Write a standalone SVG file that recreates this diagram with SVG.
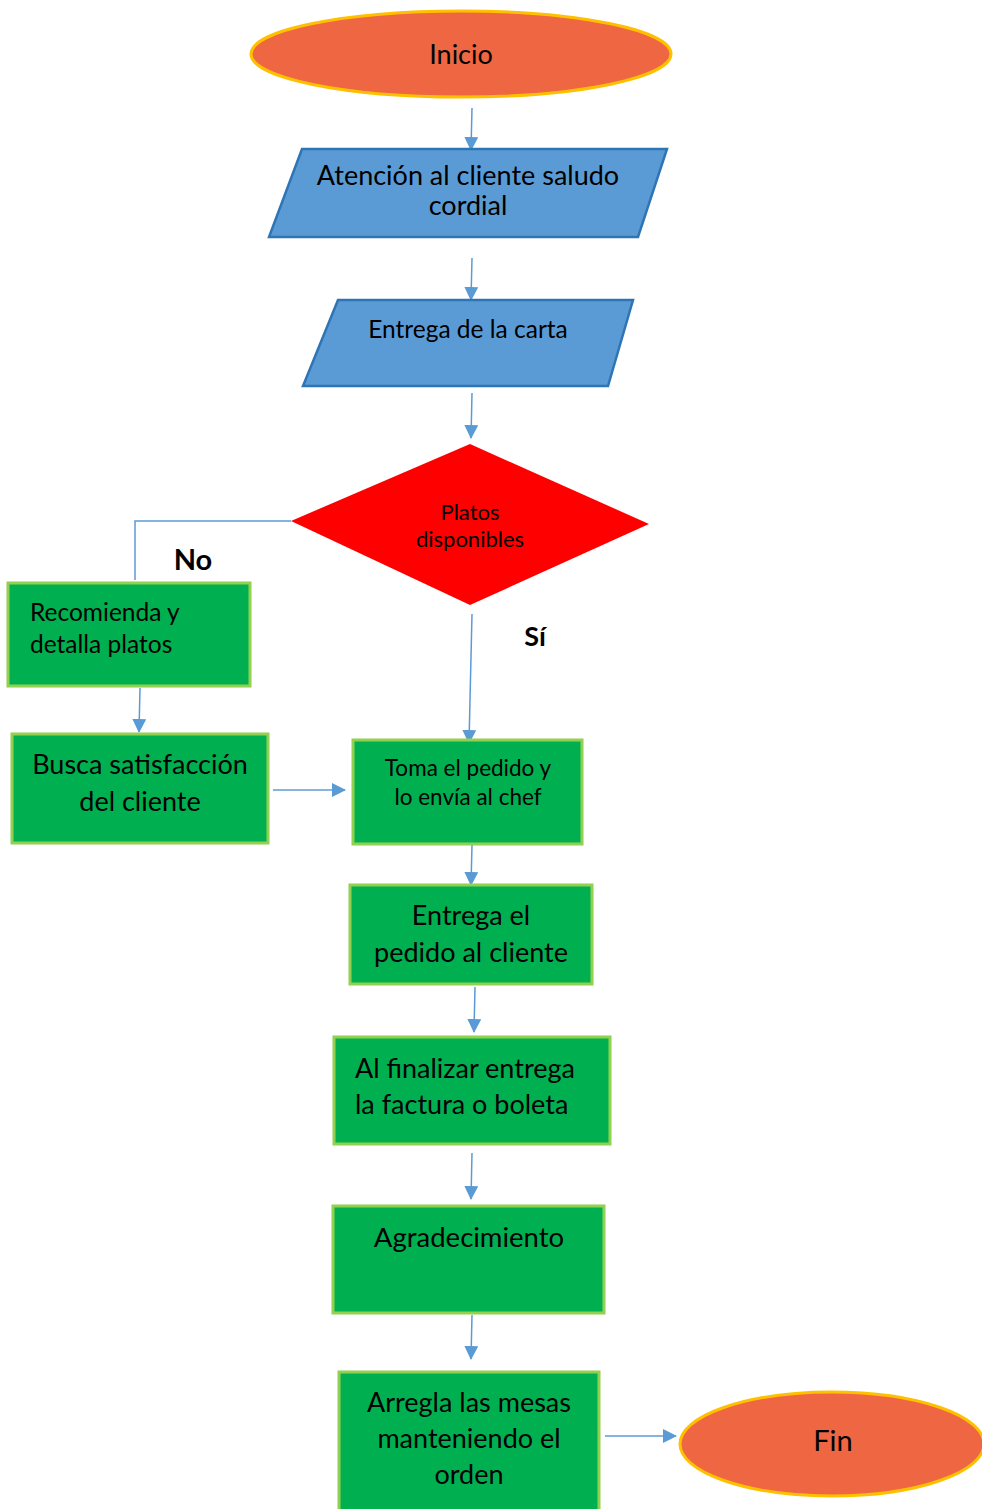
<svg xmlns="http://www.w3.org/2000/svg" width="982" height="1509" viewBox="0 0 982 1509">
  <defs>
    <marker id="arrow" viewBox="0 0 14 14" refX="13" refY="7" markerWidth="14" markerHeight="14" markerUnits="userSpaceOnUse" orient="auto">
      <path d="M0,0 L14,7 L0,14 Z" fill="#5B9BD5"/>
    </marker>
    <style>
      .term { fill: #EF6642; stroke: #FFC000; stroke-width: 3; }
      .io { fill: #5B9BD5; stroke: #2E75B6; stroke-width: 2.5; }
      .dec { fill: #FF0000; }
      .proc { fill: #00B050; stroke: #92D050; stroke-width: 3; }
      .conn { fill: none; stroke: #5B9BD5; stroke-width: 1.5; }
      .t { font-family: Lato, "Open Sans", "Liberation Sans", sans-serif; fill: #000; dominant-baseline: central; }
      .c { text-anchor: middle; }
      .lbl { font-family: Lato, "Liberation Sans", sans-serif; font-weight: bold; fill: #000; dominant-baseline: central; text-anchor: middle; }
    </style>
  </defs>
  <rect width="982" height="1509" fill="#FFFFFF"/>

  <g id="connectors">
    <line class="conn" x1="472" y1="108" x2="471" y2="150" marker-end="url(#arrow)"/>
    <line class="conn" x1="472" y1="258" x2="471" y2="300" marker-end="url(#arrow)"/>
    <line class="conn" x1="472" y1="393" x2="471" y2="438" marker-end="url(#arrow)"/>
    <polyline class="conn" points="291,521 135,521 135,580"/>
    <line class="conn" x1="472" y1="614" x2="469" y2="743" marker-end="url(#arrow)"/>
    <line class="conn" x1="140" y1="688" x2="139" y2="732" marker-end="url(#arrow)"/>
    <line class="conn" x1="273" y1="790" x2="345" y2="790" marker-end="url(#arrow)"/>
    <line class="conn" x1="472" y1="845" x2="471" y2="885" marker-end="url(#arrow)"/>
    <line class="conn" x1="475" y1="987" x2="474" y2="1032" marker-end="url(#arrow)"/>
    <line class="conn" x1="472" y1="1153" x2="471" y2="1199" marker-end="url(#arrow)"/>
    <line class="conn" x1="472" y1="1315" x2="471" y2="1359" marker-end="url(#arrow)"/>
    <line class="conn" x1="605" y1="1436" x2="676" y2="1436" marker-end="url(#arrow)"/>
    <text class="lbl" x="193" y="558" font-size="29">No</text>
    <text class="lbl" x="535" y="635" font-size="27">Sí</text>
  </g>

  <g id="inicio">
    <ellipse class="term" cx="461" cy="54" rx="210" ry="43"/>
    <text class="t c" x="461" y="53" font-size="27">Inicio</text>
  </g>

  <g id="atencion">
    <polygon class="io" points="302,149 667,149 638,237 269,237"/>
    <text class="t c" x="468" y="174" font-size="27">Atención al cliente saludo</text>
    <text class="t c" x="468" y="204" font-size="27">cordial</text>
  </g>

  <g id="entrega-carta">
    <polygon class="io" points="338,300 633,300 608,386 303,386"/>
    <text class="t c" x="468" y="328" font-size="24.5">Entrega de la carta</text>
  </g>

  <g id="platos-disponibles">
    <polygon class="dec" points="470,444 649,524 470,605 291,521"/>
    <text class="t c" x="470" y="511" font-size="22">Platos</text>
    <text class="t c" x="470" y="538" font-size="22">disponibles</text>
  </g>

  <g id="recomienda">
    <rect class="proc" x="8" y="583" width="242" height="103"/>
    <text class="t" x="30" y="611" font-size="24.5">Recomienda y</text>
    <text class="t" x="30" y="643" font-size="24.5">detalla platos</text>
  </g>

  <g id="busca">
    <rect class="proc" x="12" y="734" width="256" height="109"/>
    <text class="t c" x="140" y="763" font-size="27">Busca satisfacción</text>
    <text class="t c" x="140" y="800" font-size="27">del cliente</text>
  </g>

  <g id="toma-pedido">
    <rect class="proc" x="353" y="740" width="229" height="104"/>
    <text class="t c" x="468" y="767" font-size="22.5">Toma el pedido y</text>
    <text class="t c" x="468" y="796" font-size="22.5">lo envía al chef</text>
  </g>

  <g id="entrega-pedido">
    <rect class="proc" x="350" y="885" width="242" height="99"/>
    <text class="t c" x="471" y="914" font-size="27">Entrega el</text>
    <text class="t c" x="471" y="951" font-size="27">pedido al cliente</text>
  </g>

  <g id="factura">
    <rect class="proc" x="334" y="1037" width="276" height="107"/>
    <text class="t" x="355" y="1067" font-size="27">Al finalizar entrega</text>
    <text class="t" x="355" y="1103" font-size="27">la factura o boleta</text>
  </g>

  <g id="agradecimiento">
    <rect class="proc" x="333" y="1206" width="271" height="107"/>
    <text class="t c" x="469" y="1236" font-size="27.5">Agradecimiento</text>
  </g>

  <g id="arregla">
    <rect class="proc" x="339" y="1372" width="260" height="142"/>
    <text class="t c" x="469" y="1401" font-size="27">Arregla las mesas</text>
    <text class="t c" x="469" y="1437" font-size="27">manteniendo el</text>
    <text class="t c" x="469" y="1473" font-size="27">orden</text>
  </g>

  <g id="fin">
    <ellipse class="term" cx="832" cy="1444" rx="152" ry="52"/>
    <text class="t c" x="833" y="1439" font-size="29">Fin</text>
  </g>
</svg>
